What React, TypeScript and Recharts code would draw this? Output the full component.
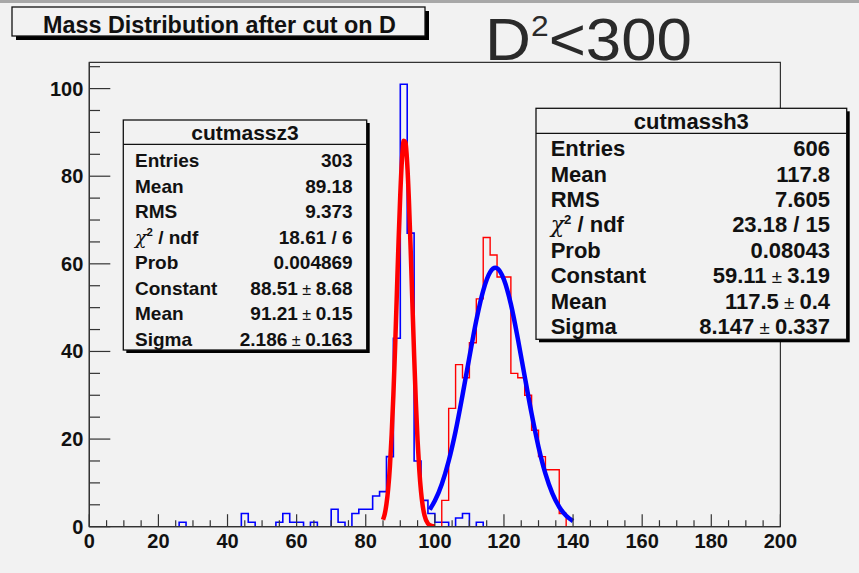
import React from 'react';
import { ComposedChart, Line, XAxis, YAxis, ReferenceArea } from 'recharts';

// cutmassz3 histogram (blue), bin low edges and counts, bin width 2
const zBinLow = [26, 44, 46, 54, 56, 58, 60, 64, 70, 72, 76, 78, 80, 82, 84, 86, 88, 90, 92, 94, 96, 98, 100, 102, 106, 108, 112];
const zCounts = [1, 3, 1, 1, 3, 1, 1, 1, 4, 1, 3, 4, 4, 7, 8, 16, 43, 101, 67, 15, 6, 3, 1, 1, 2, 3, 1];

// cutmassh3 histogram (red)
const hBinLow = [102, 104, 106, 108, 110, 112, 114, 116, 118, 120, 122, 124, 126, 128, 130, 132, 134, 136];
const hCounts = [6, 27, 37, 34, 42, 52, 66, 62, 57, 57, 35, 34, 30, 22, 16, 13, 13, 3];

// fitted gaussians
const zFitX = [85, 85.5, 86, 86.5, 87, 87.5, 88, 88.5, 89, 89.5, 90, 90.5, 91, 91.5, 92, 92.5, 93, 93.5, 94, 94.5, 95, 95.5, 96, 96.5, 97, 98, 99, 100];
const zFitY = [1.6, 2.9, 5.2, 8.7, 13.8, 21.0, 30.1, 41.0, 53.1, 65.2, 75.9, 84.0, 88.1, 87.7, 82.9, 74.4, 63.3, 51.1, 39.2, 28.5, 19.7, 12.9, 8.0, 4.7, 2.6, 0.7, 0.2, 0.04];
const hFitX = [98.5, 100, 102, 104, 106, 108, 110, 112, 114, 116, 117.5, 118, 120, 122, 124, 126, 128, 130, 132, 134, 136, 138, 140];
const hFitY = [3.9, 5.9, 9.7, 15.0, 21.8, 30.0, 38.7, 47.1, 53.9, 58.1, 59.1, 59.0, 56.4, 50.8, 43.0, 34.3, 25.8, 18.2, 12.1, 7.6, 4.5, 2.5, 1.3];

const xTicks = [0, 5, 10, 15, 20, 25, 30, 35, 40, 45, 50, 55, 60, 65, 70, 75, 80, 85, 90, 95, 100, 105, 110, 115, 120, 125, 130, 135, 140, 145, 150, 155, 160, 165, 170, 175, 180, 185, 190, 195, 200];
const yTicks = [0, 5, 10, 15, 20, 25, 30, 35, 40, 45, 50, 55, 60, 65, 70, 75, 80, 85, 90, 95, 100, 105];

const zLabels = ['Entries', 'Mean', 'RMS', 'chi', 'Prob', 'Constant', 'Mean', 'Sigma'];
const zValues = ['303', '89.18', '9.373', '18.61 / 6', '0.004869', '88.51|8.68', '91.21|0.15', '2.186|0.163'];
const hValues = ['606', '117.8', '7.605', '23.18 / 15', '0.08043', '59.11|3.19', '117.5|0.4', '8.147|0.337'];

const FONT = '"Liberation Sans", Arial, Helvetica, sans-serif';
const BIN = 2;

function histo(lows: number[], counts: number[]) {
  const pts: { x: number; y: number }[] = [];
  for (let x = 0; x < 200; x += BIN) {
    const i = lows.indexOf(x);
    pts.push({ x, y: i >= 0 ? counts[i] : 0 });
  }
  pts.push({ x: 200, y: 0 });
  return pts;
}

const zHist = histo(zBinLow, zCounts);
const hHist = histo(hBinLow, hCounts);
const zFit = zFitX.map((x, i) => ({ x, y: zFitY[i] }));
const hFit = hFitX.map((x, i) => ({ x, y: hFitY[i] }));

const XTick = (props: any) => {
  const { x, y, payload } = props;
  const major = payload.value % 20 === 0;
  return (
    <g>
      <line x1={x} x2={x} y1={y} y2={y - (major ? 12.5 : 6.5)} stroke="#333" strokeWidth={1.2} />
      {major && (
        <text x={x} y={y + 21} textAnchor="middle" fontSize={20} fontWeight="bold" fill="#111" fontFamily={FONT}>
          {payload.value}
        </text>
      )}
    </g>
  );
};

const YTick = (props: any) => {
  const { x, y, payload } = props;
  const major = payload.value % 20 === 0;
  return (
    <g>
      <line x1={x} x2={x + (major ? 21 : 10.7)} y1={y} y2={y} stroke="#333" strokeWidth={1.2} />
      {major && (
        <text x={x - 6} y={y + 7} textAnchor="end" fontSize={20} fontWeight="bold" fill="#111" fontFamily={FONT}>
          {payload.value}
        </text>
      )}
    </g>
  );
};

function Label({ name, x, y, size }: { name: string; x: number; y: number; size: number }) {
  if (name === 'chi') {
    return (
      <text x={x} y={y} fontSize={size} fontWeight="bold" fill="#111" fontFamily={FONT}>
        <tspan fontStyle="italic" fontWeight="normal" fontFamily='"DejaVu Serif", serif'>χ</tspan>
        <tspan fontSize={size * 0.6} dy={-size * 0.4}>2</tspan>
        <tspan dy={size * 0.4}> / ndf</tspan>
      </text>
    );
  }
  return (
    <text x={x} y={y} fontSize={size} fontWeight="bold" fill="#111" fontFamily={FONT}>
      {name}
    </text>
  );
}

function Value({ v, x, y, size }: { v: string; x: number; y: number; size: number }) {
  const parts = v.split('|');
  return (
    <text x={x} y={y} fontSize={size} fontWeight="bold" fill="#111" textAnchor="end" fontFamily={FONT}>
      {parts.length === 1 ? (
        v
      ) : (
        <>
          {parts[0]}
          <tspan fontWeight="normal" fontSize={size * 0.85}> ± </tspan>
          {parts[1]}
        </>
      )}
    </text>
  );
}

function StatsBox(p: {
  x: number; y: number; w: number; h: number; head: number; title: string; titleSize: number;
  values: string[]; size: number; labelX: number; valueX: number; base: number; step: number;
}) {
  return (
    <g>
      <rect x={p.x + 3} y={p.y + 3} width={p.w} height={p.h} fill="#000" />
      <rect x={p.x} y={p.y} width={p.w} height={p.h} fill="#f2f2f2" stroke="#111" strokeWidth={1.3} />
      <line x1={p.x} x2={p.x + p.w} y1={p.y + p.head} y2={p.y + p.head} stroke="#111" strokeWidth={1.3} />
      <text x={p.x + p.w / 2} y={p.y + p.head / 2 + p.titleSize * 0.36} textAnchor="middle" fontSize={p.titleSize} fontWeight="bold" fill="#111" fontFamily={FONT}>
        {p.title}
      </text>
      {zLabels.map((l, i) => (
        <Label key={'l' + i} name={l} x={p.labelX} y={p.base + i * p.step} size={p.size} />
      ))}
      {p.values.map((v, i) => (
        <Value key={'v' + i} v={v} x={p.valueX} y={p.base + i * p.step} size={p.size} />
      ))}
    </g>
  );
}

export default function App() {
  return (
    <div style={{ position: 'absolute', left: 0, top: 0, width: 859, height: 573, background: '#f2f2f2', overflow: 'hidden' }}>
      <ComposedChart width={859} height={573} margin={{ top: 62.3, right: 78.6, bottom: 16.3, left: 49.3 }}>
        <XAxis
          type="number"
          dataKey="x"
          domain={[0, 200]}
          ticks={xTicks}
          interval={0}
          height={30}
          tickSize={0}
          tickMargin={0}
          tick={<XTick />}
          axisLine={{ stroke: '#333', strokeWidth: 1.2 }}
          allowDataOverflow
        />
        <YAxis
          type="number"
          dataKey="y"
          domain={[0, 106]}
          ticks={yTicks}
          interval={0}
          width={40}
          tickSize={0}
          tickMargin={0}
          tick={<YTick />}
          axisLine={{ stroke: '#333', strokeWidth: 1.2 }}
          allowDataOverflow
        />
        <ReferenceArea x1={0} x2={200} y1={0} y2={106} fill="none" stroke="#333" strokeWidth={1.2} />
        <Line data={zHist} dataKey="y" type="stepAfter" stroke="#0000ff" strokeWidth={1.6} dot={false} isAnimationActive={false} />
        <Line data={zFit} dataKey="y" type="monotone" stroke="#ff0000" strokeWidth={4.5} dot={false} isAnimationActive={false} />
        <Line data={hHist} dataKey="y" type="stepAfter" stroke="#ff0000" strokeWidth={1.4} dot={false} isAnimationActive={false} />
        <Line data={hFit} dataKey="y" type="monotone" stroke="#0000ff" strokeWidth={4.5} dot={false} isAnimationActive={false} />
      </ComposedChart>
      <svg width={859} height={573} style={{ position: 'absolute', left: 0, top: 0, pointerEvents: 'none' }}>
        <rect x={0} y={0} width={859} height={3} fill="#a8a8a8" />
        <rect x={16} y={11} width={413} height={29} fill="#000" />
        <rect x={12} y={7} width={413} height={29} fill="#f2f2f2" stroke="#111" strokeWidth={1.3} />
        <text x={43} y={32.5} fontSize={23} fontWeight="bold" fill="#111" fontFamily={FONT} textLength={353} lengthAdjust="spacingAndGlyphs">
          Mass Distribution after cut on D
        </text>
        <text x={485} y={60} fontSize={60} fill="#2a2a2a" fontFamily={FONT} textLength={207} lengthAdjust="spacingAndGlyphs">
          D
          <tspan fontSize={30} dy={-24}>2</tspan>
          <tspan dy={24}>&lt;300</tspan>
        </text>
        <StatsBox
          x={123.3} y={120} w={243.4} h={230} head={24.3} title="cutmassz3" titleSize={21}
          values={zValues} size={19} labelX={135} valueX={352.7} base={167} step={25.5}
        />
        <StatsBox
          x={536} y={108.3} w={310.7} h={231} head={25} title="cutmassh3" titleSize={22}
          values={hValues} size={22} labelX={550.7} valueX={830} base={156.2} step={25.4}
        />
      </svg>
    </div>
  );
}
